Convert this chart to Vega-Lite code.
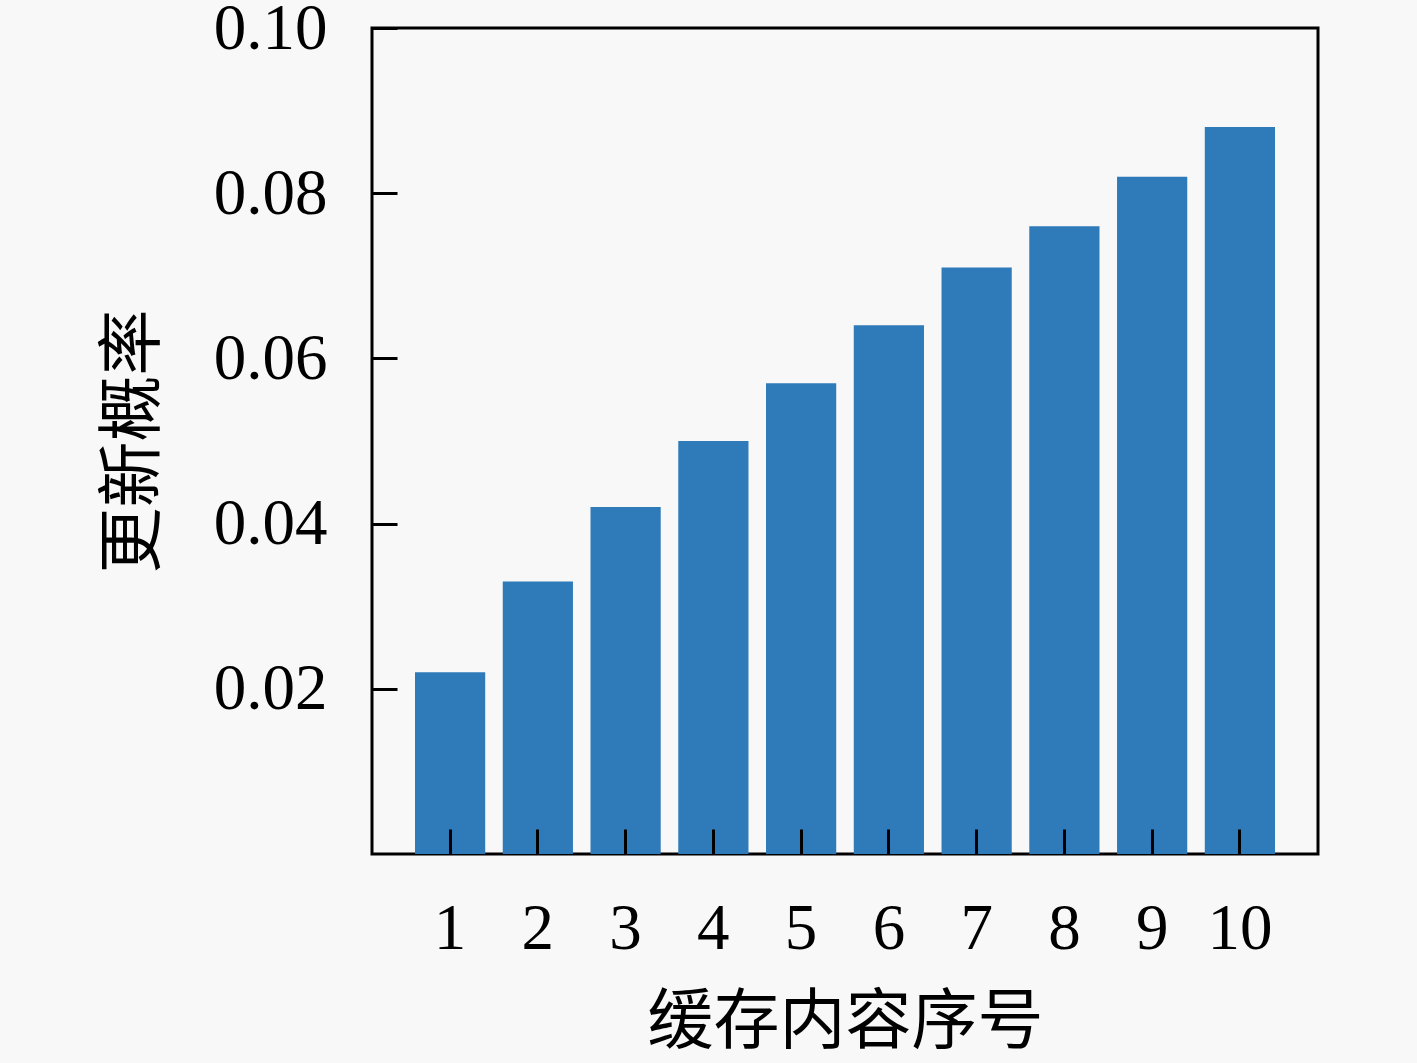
{
  "$schema": "https://vega.github.io/schema/vega-lite/v6.json",
  "width": 946,
  "height": 826,
  "autosize": {"type": "none"},
  "padding": {"left": 372, "top": 28, "right": 99, "bottom": 209},
  "background": "#f8f8f8",
  "config": {
    "view": {"stroke": "#000000", "strokeWidth": 3, "fill": "#f8f8f8"},
    "axis": {
      "domain": false,
      "grid": false,
      "tickColor": "#000000",
      "tickWidth": 3,
      "labelFont": "Liberation Serif",
      "labelFontSize": 65,
      "labelColor": "#000000",
      "titleFont": "Noto Sans CJK SC",
      "titleFontSize": 66,
      "titleFontWeight": "normal",
      "titleColor": "#000000"
    }
  },
  "data": {
    "values": [
      {"idx": "1", "p": 0.022},
      {"idx": "2", "p": 0.033},
      {"idx": "3", "p": 0.042},
      {"idx": "4", "p": 0.050},
      {"idx": "5", "p": 0.057},
      {"idx": "6", "p": 0.064},
      {"idx": "7", "p": 0.071},
      {"idx": "8", "p": 0.076},
      {"idx": "9", "p": 0.082},
      {"idx": "10", "p": 0.088}
    ]
  },
  "mark": {"type": "bar", "color": "#2f7ab9"},
  "encoding": {
    "x": {
      "field": "idx",
      "type": "ordinal",
      "sort": null,
      "scale": {"paddingInner": 0.2, "paddingOuter": 0.49},
      "axis": {
        "title": "缓存内容序号",
        "labelAngle": 0,
        "tickSize": -25,
        "labelPadding": 99,
        "labelBaseline": "middle",
        "titleX": 473,
        "titleY": 168,
        "titleBaseline": "middle",
        "zindex": 1
      }
    },
    "y": {
      "field": "p",
      "type": "quantitative",
      "scale": {"domain": [0, 0.1], "nice": false},
      "axis": {
        "title": "更新概率",
        "values": [0.02, 0.04, 0.06, 0.08, 0.10],
        "format": ".2f",
        "tickSize": -25,
        "labelPadding": 70,
        "titleX": -239,
        "titleY": 413,
        "titleBaseline": "middle",
        "zindex": 1
      }
    }
  }
}
